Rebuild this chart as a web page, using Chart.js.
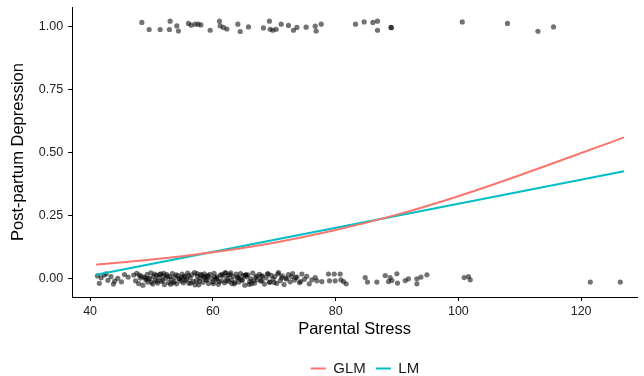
<!DOCTYPE html>
<html>
<head>
<meta charset="utf-8">
<script src="https://cdn.jsdelivr.net/npm/chart.js@4/dist/chart.umd.min.js"></script>
<style>
html,body{margin:0;padding:0;background:#fff;}
#wrap{width:644px;height:376px;}
</style>
</head>
<body>
<div id="wrap"><canvas id="c" width="644" height="376"></canvas></div>
<script>
// Tick labels
const xTicks = [40, 60, 80, 100, 120];
const yTicks = [0, 0.25, 0.5, 0.75, 1];

// Fitted curves
const glmX = [41, 50, 60, 70, 80, 90, 100, 110, 120, 127];
const glmY = [0.056, 0.076, 0.105, 0.143, 0.193, 0.254, 0.327, 0.410, 0.498, 0.560];
const lmX = [41, 127];
const lmY = [0.016, 0.426];

// Observed points, outcome = 1 (jittered)
const topX = [48.43,49.62,51.41,52.92,53.04,54.13,54.39,56.02,56.46,57.11,57.60,58.04,59.56,61.07,61.19,61.72,62.28,64.07,64.45,65.80,68.24,69.22,69.33,69.77,70.31,71.13,72.32,73.13,73.69,75.20,76.67,76.83,77.65,83.24,84.65,86.07,86.82,86.82,89.0,89.1,100.63,108.0,112.96,115.5];
const topY = [1.015,0.987,0.987,0.987,1.020,1.001,0.981,1.011,1.004,1.008,1.008,1.005,0.984,1.020,1.001,0.995,0.989,1.008,0.979,0.997,0.993,1.020,0.988,0.984,0.988,1.008,1.003,0.984,0.995,0.996,1.000,0.981,1.008,1.008,1.017,1.015,1.020,0.984,0.995,0.994,1.017,1.011,0.980,0.997];

// Observed points, outcome = 0 (jittered): low-stress cluster
const lowX = [41.2,41.5,41.8,42.3,42.9,43.4,43.8,44.5,45.1,45.6,46.2,44.0,42.6];
const lowY = [0.012,-0.018,0.004,0.015,-0.006,0.009,-0.021,0.002,-0.012,0.017,0.007,-0.009,0.020];

// outcome = 0: dense band
const denseX = [47.1,47.4,47.6,47.9,48.2,48.3,48.6,48.8,49.1,49.3,49.4,49.7,49.9,50.2,50.3,50.6,50.8,51.0,51.2,51.5,51.6,51.9,52.1,52.3,52.5,52.8,53.0,53.2,53.4,53.7,53.8,54.1,54.3,54.5,54.8,55.0,55.2,55.4,55.7,55.9,56.1,56.3,56.6,56.8,57.0,57.3,57.5,57.7,57.9,58.2,58.4,58.6,58.9,59.1,59.3,59.5,59.8,60.0,60.2,60.5,60.7,60.9,61.2,61.4,61.6,61.9,62.1,62.3,62.6,62.8,63.0,63.3,63.5,63.8,64.0,64.2,64.5,64.7,65.0,65.2,65.5,65.7,66.0,66.2,66.5,66.8,67.0,67.3,67.6,67.8,68.1,68.4,68.7,69.0,69.2,69.5,69.8,70.1,70.4,70.7,71.0,71.3,71.6,71.9,72.3,72.6,73.0,73.3,73.7,74.1,74.5,74.9,75.3,75.7,48.0,49.5,50.9,52.0,53.5,54.9,56.0,57.1,58.0,59.0,60.3,61.0,62.0,63.1,64.3,65.4,66.6,67.9,69.3,70.6,72.0,73.5,65.9,62.5,58.7,55.5,51.3,
49.0,50.0,50.5,51.8,52.6,53.1,54.0,54.6,55.3,56.4,57.4,57.8,58.5,59.2,60.1,60.6,61.5,62.2,62.9,63.6,64.1,64.8,65.3,66.3,67.1,68.0,68.9,70.0,71.2,72.8,74.3];
const denseY = [0.015,-0.008,0.022,-0.019,0.003,0.011,-0.025,0.007,-0.004,0.018,
-0.013,0.001,0.024,-0.021,0.009,-0.006,0.014,-0.017,0.005,0.020,
-0.010,0.012,-0.023,0.002,0.017,-0.015,0.008,-0.002,0.021,-0.012,
0.006,-0.020,0.013,0.000,-0.009,0.019,-0.016,0.010,-0.003,0.023,
-0.018,0.004,0.016,-0.011,0.025,-0.007,0.011,-0.024,0.003,0.014,
-0.014,0.020,-0.005,0.009,-0.019,0.018,0.001,-0.012,0.022,-0.001,
0.007,-0.022,0.015,-0.008,0.012,-0.016,0.024,0.002,-0.010,0.017,
-0.004,0.010,-0.020,0.019,0.005,-0.013,0.021,-0.006,0.013,-0.025,
0.008,0.016,-0.011,0.000,0.023,-0.017,0.006,-0.003,0.018,-0.009,
0.011,-0.021,0.004,0.020,-0.014,0.014,-0.001,0.009,-0.018,0.025,
-0.007,0.012,-0.023,0.003,0.017,-0.012,0.021,-0.005,0.007,-0.015,
0.019,-0.002,0.010,-0.020,0.015,0.001,-0.009,0.022,-0.016,0.006,
0.013,-0.024,0.018,-0.004,0.008,-0.011,0.024,-0.019,0.002,0.016,
-0.008,0.011,-0.013,0.020,-0.001,0.005,-0.022,0.014,0.009,-0.006,
0.017,
0.003,-0.014,0.019,-0.006,0.010,-0.022,0.016,-0.001,0.008,-0.017,
0.021,-0.010,0.005,0.013,-0.019,0.000,0.018,-0.008,0.024,-0.013,
0.006,-0.004,0.015,-0.020,0.011,-0.007,0.020,-0.015,0.004,0.009,
-0.011];

// outcome = 0: sparse high-stress points
const sparseX = [76.13,76.67,76.95,77.76,78.84,79.00,79.77,79.93,80.74,80.86,81.28,81.72,84.82,85.19,86.72,88.08,88.89,88.62,89.17,89.98,90.08,91.34,91.87,93.24,93.24,93.9,94.87,100.95,101.65,101.93,121.49,126.38];
const sparseY = [-0.004,0.005,-0.008,-0.011,0.019,-0.008,0.019,-0.008,0.019,-0.004,-0.011,-0.020,0.005,-0.013,-0.013,0.013,0.005,-0.011,-0.007,0.020,-0.017,-0.007,0.000,0.000,-0.020,0.007,0.016,0.005,0.009,-0.004,-0.013,-0.013];

const zip = (xs, ys) => xs.map((x, i) => ({x: x, y: ys[i]}));
const pts = [].concat(zip(topX, topY), zip(lowX, lowY), zip(denseX, denseY), zip(sparseX, sparseY));

const FONT = "'Liberation Sans', Arial, Helvetica, sans-serif";

// shift the legend box to where the reference places it
const legendShift = {
  id: 'legendShift',
  afterLayout(chart) {
    const lg = chart.legend;
    if (!lg) return;
    const h = lg.bottom - lg.top;
    lg.top = 351; lg.bottom = 351 + h;
    lg.left += 42; lg.right += 42;
  }
};

new Chart(document.getElementById('c'), {
  type: 'scatter',
  data: {
    datasets: [
      {label: 'GLM', data: zip(glmX, glmY), showLine: true, borderColor: '#F8766D', backgroundColor: '#F8766D', borderWidth: 2, pointRadius: 0, cubicInterpolationMode: 'monotone', order: 0},
      {label: 'LM', data: zip(lmX, lmY), showLine: true, borderColor: '#00BFC4', backgroundColor: '#00BFC4', borderWidth: 2, pointRadius: 0, order: 0},
      {label: 'points', data: pts, showLine: false, pointRadius: 2.6, pointBorderWidth: 0, backgroundColor: 'rgba(0,0,0,0.55)', borderColor: 'rgba(0,0,0,0)', order: 1}
    ]
  },
  plugins: [legendShift],
  options: {
    responsive: false,
    animation: false,
    devicePixelRatio: 1,
    layout: {padding: {left: 9, right: 7, top: 7, bottom: 0}},
    plugins: {
      tooltip: {enabled: false},
      legend: {
        position: 'bottom',
        labels: {
          filter: (item) => item.text !== 'points',
          usePointStyle: true,
          pointStyle: 'line',
          pointStyleWidth: 15,
          boxHeight: 2,
          color: '#1a1a1a',
          font: {family: FONT, size: 15},
          padding: 10
        }
      }
    },
    scales: {
      x: {
        type: 'linear',
        min: 37.07,
        max: 129.1,
        afterBuildTicks: (s) => { s.ticks = xTicks.map(v => ({value: v})); },
        grid: {drawOnChartArea: false, drawTicks: true, tickLength: 4, color: '#000', lineWidth: 1},
        border: {display: true, color: '#000', width: 1},
        ticks: {color: '#222', font: {family: FONT, size: 12.5, lineHeight: 1}, padding: 4, maxRotation: 0},
        title: {display: true, text: 'Parental Stress', color: '#000', font: {family: FONT, size: 16.5, lineHeight: 1}, padding: {top: 0, bottom: 3}}
      },
      y: {
        type: 'linear',
        min: -0.072,
        max: 1.076,
        afterBuildTicks: (s) => { s.ticks = yTicks.map(v => ({value: v})); },
        afterFit: (s) => { s.paddingTop = 0; s.paddingBottom = 0; },
        grid: {drawOnChartArea: false, drawTicks: true, tickLength: 4, color: '#000', lineWidth: 1},
        border: {display: true, color: '#000', width: 1},
        ticks: {color: '#222', font: {family: FONT, size: 12.5}, padding: 5, callback: (v) => Number(v).toFixed(2)},
        title: {display: true, text: 'Post-partum Depression', color: '#000', font: {family: FONT, size: 16.5}, padding: {top: 0, bottom: 5}}
      }
    }
  }
});
</script>
</body>
</html>
